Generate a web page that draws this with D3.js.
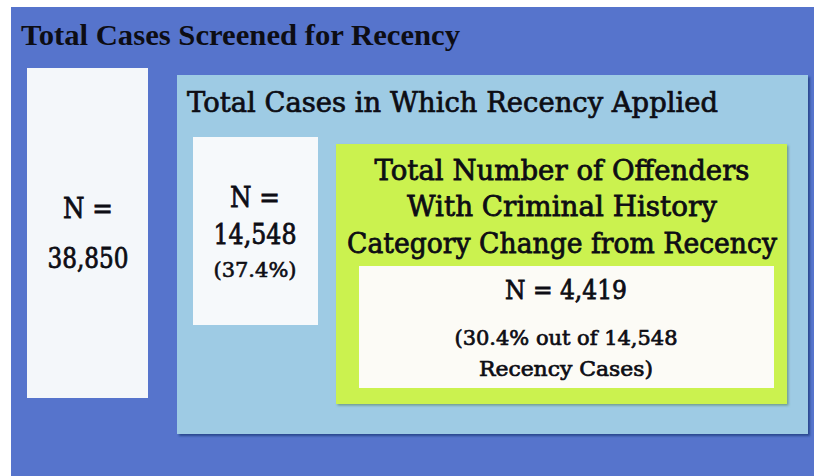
<!DOCTYPE html>
<html>
<head>
<meta charset="utf-8">
<script src="https://cdn.jsdelivr.net/npm/d3@7"></script>
<style>
  html, body { margin: 0; padding: 0; background: #ffffff; }
  svg { display: block; }
</style>
</head>
<body>
<div id="chart"></div>
<script>
// Nested boxes - recency screening

var levels = ["Total Cases Screened for Recency", "Total Cases in Which Recency Applied",
    "Total Number of Offenders With Criminal History Category Change from Recency"];
var counts = [38850, 14548, 4419];
var shares = [null, 37.4, 30.4];   // percent of the level above

var fmt = d3.format(",");

var width = 814,
    height = 476;

var svg = d3.select('#chart').append("svg")
    .attr("width", width)
    .attr("height", height);

var defs = svg.append("defs");
var sh = defs.append("filter").attr("id", "shadow")
    .attr("x", "-5%").attr("y", "-5%").attr("width", "110%").attr("height", "110%");
sh.append("feDropShadow").attr("dx", 2).attr("dy", 2).attr("stdDeviation", 1)
    .attr("flood-color", "#1b3b7a").attr("flood-opacity", 0.75);
var sh2 = defs.append("filter").attr("id", "shadow2")
    .attr("x", "-5%").attr("y", "-5%").attr("width", "110%").attr("height", "110%");
sh2.append("feDropShadow").attr("dx", 1.5).attr("dy", 1.5).attr("stdDeviation", 1)
    .attr("flood-color", "#4f7a55").attr("flood-opacity", 0.6);

// boxes: outer frame, count boxes and nested frames
var boxes = [
    { x: 11, y: 7, w: 803, h: 469, fill: "#5674cc" },
    { x: 27, y: 68, w: 121, h: 330, fill: "#f4f7fa" },
    { x: 177, y: 75, w: 631, h: 359, fill: "#9ecbe4", filter: "url(#shadow)" },
    { x: 193, y: 137, w: 125, h: 188, fill: "#f6f9fb" },
    { x: 336, y: 144, w: 451, h: 260, fill: "#cbf24f", filter: "url(#shadow2)" },
    { x: 359, y: 266, w: 415, h: 122, fill: "#fcfbf6" }
];

svg.selectAll(".box")
    .data(boxes)
    .enter().append("rect")
    .attr("class", "box")
    .attr("x", function (d) { return d.x; })
    .attr("y", function (d) { return d.y; })
    .attr("width", function (d) { return d.w; })
    .attr("height", function (d) { return d.h; })
    .attr("fill", function (d) { return d.fill; })
    .attr("filter", function (d) { return d.filter || null; });

var green = levels[2].split(" ");
var labels = [
    { t: levels[0], x: 21, y: 45, size: 29, len: 439, anchor: "start", font: "Liberation Serif", weight: "bold", sw: 0 },
    { t: levels[1], x: 187, y: 112, size: 27, len: 531, anchor: "start", sw: 0.7 },
    { t: "N =", x: 88, y: 218, size: 28, len: 50, sw: 0.8 },
    { t: fmt(counts[0]), x: 88, y: 268, size: 28, len: 81, sw: 0.8 },
    { t: "N =", x: 255, y: 207, size: 28, len: 50, sw: 0.8 },
    { t: fmt(counts[1]), x: 255, y: 244, size: 28, len: 83, sw: 0.8 },
    { t: "(" + shares[1] + "%)", x: 255, y: 277, size: 20, len: 83, sw: 0.6 },
    { t: green.slice(0, 4).join(" "), x: 562, y: 180, size: 28, len: 375, sw: 0.8 },
    { t: green.slice(4, 7).join(" "), x: 562, y: 216, size: 28, len: 310, sw: 0.8 },
    { t: green.slice(7).join(" "), x: 562, y: 253, size: 28, len: 430, sw: 0.8 },
    { t: "N = " + fmt(counts[2]), x: 566, y: 299, size: 26, len: 122, sw: 0.8 },
    { t: "(" + shares[2] + "% out of " + fmt(counts[1]), x: 566, y: 345, size: 21, len: 223, sw: 0.7 },
    { t: "Recency Cases)", x: 566, y: 376, size: 21, len: 174, sw: 0.7 }
];

svg.selectAll(".label")
    .data(labels)
    .enter().append("text")
    .attr("class", "label")
    .attr("x", function (d) { return d.x; })
    .attr("y", function (d) { return d.y; })
    .attr("text-anchor", function (d) { return d.anchor || "middle"; })
    .attr("font-family", function (d) { return d.font || "DejaVu Serif"; })
    .attr("font-weight", function (d) { return d.weight || "normal"; })
    .attr("font-size", function (d) { return d.size; })
    .attr("textLength", function (d) { return d.len; })
    .attr("lengthAdjust", "spacingAndGlyphs")
    .attr("fill", "#0d0d14")
    .attr("stroke", "#0d0d14")
    .attr("stroke-width", function (d) { return d.sw; })
    .text(function (d) { return d.t; });
</script>
</body>
</html>
